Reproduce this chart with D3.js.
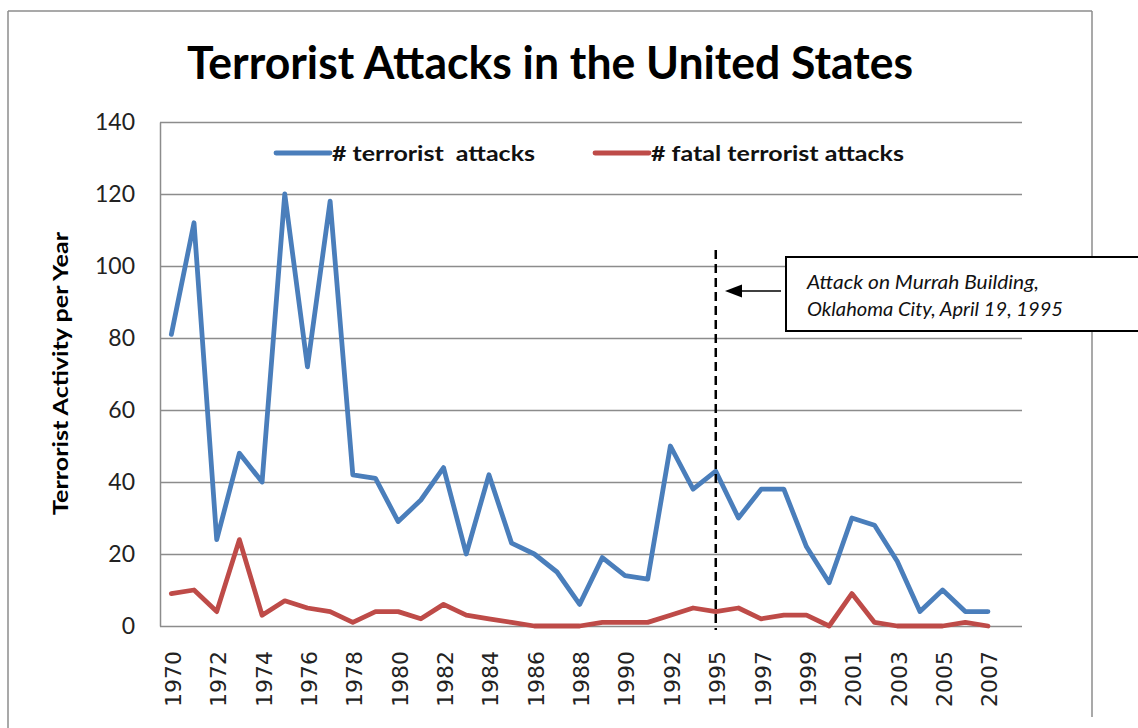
<!DOCTYPE html>
<html>
<head>
<meta charset="utf-8">
<script src="https://cdn.jsdelivr.net/npm/d3@7/dist/d3.min.js"></script>
<style>
  html, body { margin: 0; padding: 0; background: #fff; }
  svg { display: block; }
</style>
</head>
<body>
<svg id="chart" width="1138" height="728"></svg>
<script>
// ---------- DATA ----------
const categories = ["1970","1971","1972","1973","1974","1975","1976","1977","1978","1979",
  "1980","1981","1982","1983","1984","1985","1986","1987","1988","1989",
  "1990","1991","1992","1994","1995","1996","1997","1998","1999","2000",
  "2001","2002","2003","2004","2005","2006","2007"];
const attacks = [81,112,24,48,40,120,72,118,42,41,
  29,35,44,20,42,23,20,15,6,19,
  14,13,50,38,43,30,38,38,22,12,
  30,28,18,4,10,4,4];
const fatalAttacks = [9,10,4,24,3,7,5,4,1,4,
  4,2,6,3,2,1,0,0,0,1,
  1,1,3,5,4,5,2,3,3,0,
  9,1,0,0,0,1,0];
const xTickLabels = ["1970","1972","1974","1976","1978","1980","1982","1984","1986","1988",
  "1990","1992","1995","1997","1999","2001","2003","2005","2007"];
const yTicks = [0,20,40,60,80,100,120,140];
const seriesNames = ["# terrorist  attacks", "# fatal terrorist attacks"];
const eventYear = "1995";
const annotationLines = ["Attack on Murrah Building,", "Oklahoma City, April 19, 1995"];
const titleText = "Terrorist Attacks in the United States";
const yTitle = "Terrorist Activity per Year";

// ---------- LAYOUT ----------
const svg = d3.select("#chart");
const plot = { left: 160, right: 1022, top: 122, bottom: 626 };
const slots = categories.length + 1;          // Excel category axis leaves one empty slot at the end
const band = (plot.right - plot.left) / slots;
const x = d3.scalePoint().domain(categories)
  .range([plot.left + band / 2, plot.right - band * 1.5]);
const y = d3.scaleLinear().domain([0, 140]).range([plot.bottom, plot.top]);

const blue = "#4A7EBB", red = "#BE4B48", grid = "#8C8C8C";

// outer frame
svg.append("line").attr("x1", 8).attr("y1", 11).attr("x2", 1092).attr("y2", 11)
  .attr("stroke", grid).attr("stroke-width", 1.5);
svg.append("line").attr("x1", 8).attr("y1", 11).attr("x2", 8).attr("y2", 728)
  .attr("stroke", grid).attr("stroke-width", 1.5);
svg.append("line").attr("x1", 1092).attr("y1", 11).attr("x2", 1092).attr("y2", 717)
  .attr("stroke", grid).attr("stroke-width", 1.5);

// title
svg.append("text").attr("x", 187).attr("y", 79)
  .attr("font-family", "Lato, sans-serif").attr("font-weight", "bold").attr("font-size", 46)
  .attr("textLength", 726).attr("lengthAdjust", "spacingAndGlyphs")
  .attr("fill", "#000").text(titleText);

// y axis with gridlines
const yAxis = svg.append("g").attr("transform", `translate(${plot.left},0)`)
  .call(d3.axisLeft(y).tickValues(yTicks).tickSizeInner(-(plot.right - plot.left)).tickSizeOuter(0).tickPadding(25));
yAxis.select(".domain").attr("stroke", grid).attr("stroke-width", 1.5);
yAxis.selectAll(".tick line").attr("stroke", grid).attr("stroke-width", 1.5);
yAxis.selectAll(".tick text").attr("font-family", "Lato, sans-serif").attr("font-size", 23)
  .attr("fill", "#222");

// x axis labels
const xAxis = svg.append("g").attr("transform", `translate(0,${plot.bottom})`)
  .call(d3.axisBottom(x).tickValues(xTickLabels).tickSize(0));
xAxis.select(".domain").remove();
xAxis.selectAll(".tick text")
  .attr("font-family", "DejaVu Sans, sans-serif").attr("font-size", 22).attr("fill", "#222")
  .attr("transform", "rotate(-90)")
  .attr("x", -25).attr("y", 1).attr("dy", "0.36em")
  .attr("text-anchor", "end");

// y title
svg.append("text")
  .attr("transform", `translate(68,${(232 + 515) / 2}) rotate(-90)`)
  .attr("text-anchor", "middle")
  .attr("font-family", "Lato, sans-serif").attr("font-weight", "bold").attr("font-size", 20)
  .attr("textLength", 283).attr("lengthAdjust", "spacingAndGlyphs")
  .attr("fill", "#000").text(yTitle);

// lines
const line = d3.line().x((d, i) => x(categories[i])).y(d => y(d));
svg.append("path").datum(fatalAttacks).attr("d", line)
  .attr("fill", "none").attr("stroke", red).attr("stroke-width", 4.8)
  .attr("stroke-linejoin", "round").attr("stroke-linecap", "round");
svg.append("path").datum(attacks).attr("d", line)
  .attr("fill", "none").attr("stroke", blue).attr("stroke-width", 4.8)
  .attr("stroke-linejoin", "round").attr("stroke-linecap", "round");

// legend
const legend = [
  { name: seriesNames[0], color: blue, x0: 276, len: 203 },
  { name: seriesNames[1], color: red, x0: 595, len: 253 }
];
legend.forEach(l => {
  svg.append("line").attr("x1", l.x0).attr("x2", l.x0 + 54).attr("y1", 153).attr("y2", 153)
    .attr("stroke", l.color).attr("stroke-width", 4.8).attr("stroke-linecap", "round");
  svg.append("text").attr("x", l.x0 + 56).attr("y", 161)
    .attr("font-family", "Lato, sans-serif").attr("font-weight", "bold").attr("font-size", 21)
    .attr("textLength", l.len).attr("lengthAdjust", "spacingAndGlyphs")
    .attr("xml:space", "preserve").style("white-space", "pre")
    .attr("fill", "#111").text(l.name);
});

// event dashed line
const ex = x(eventYear);
svg.append("line").attr("x1", ex).attr("x2", ex).attr("y1", 250).attr("y2", 630)
  .attr("stroke", "#000").attr("stroke-width", 2.5).attr("stroke-dasharray", "9,5");

// arrow
svg.append("line").attr("x1", 781).attr("x2", 740).attr("y1", 291).attr("y2", 291)
  .attr("stroke", "#000").attr("stroke-width", 1.5);
svg.append("path").attr("d", "M725,291 L742,284.5 L742,297.5 Z").attr("fill", "#000");

// annotation box
svg.append("rect").attr("x", 786).attr("y", 257).attr("width", 420).attr("height", 74)
  .attr("fill", "#fff").attr("stroke", "#000").attr("stroke-width", 2);
annotationLines.forEach((t, i) => {
  svg.append("text").attr("x", 807).attr("y", 289 + i * 27)
    .attr("font-family", "Lato, sans-serif").attr("font-style", "italic").attr("font-size", 19)
    .attr("textLength", i === 0 ? 232 : 256).attr("lengthAdjust", "spacingAndGlyphs")
    .attr("fill", "#111").text(t);
});
</script>
</body>
</html>
